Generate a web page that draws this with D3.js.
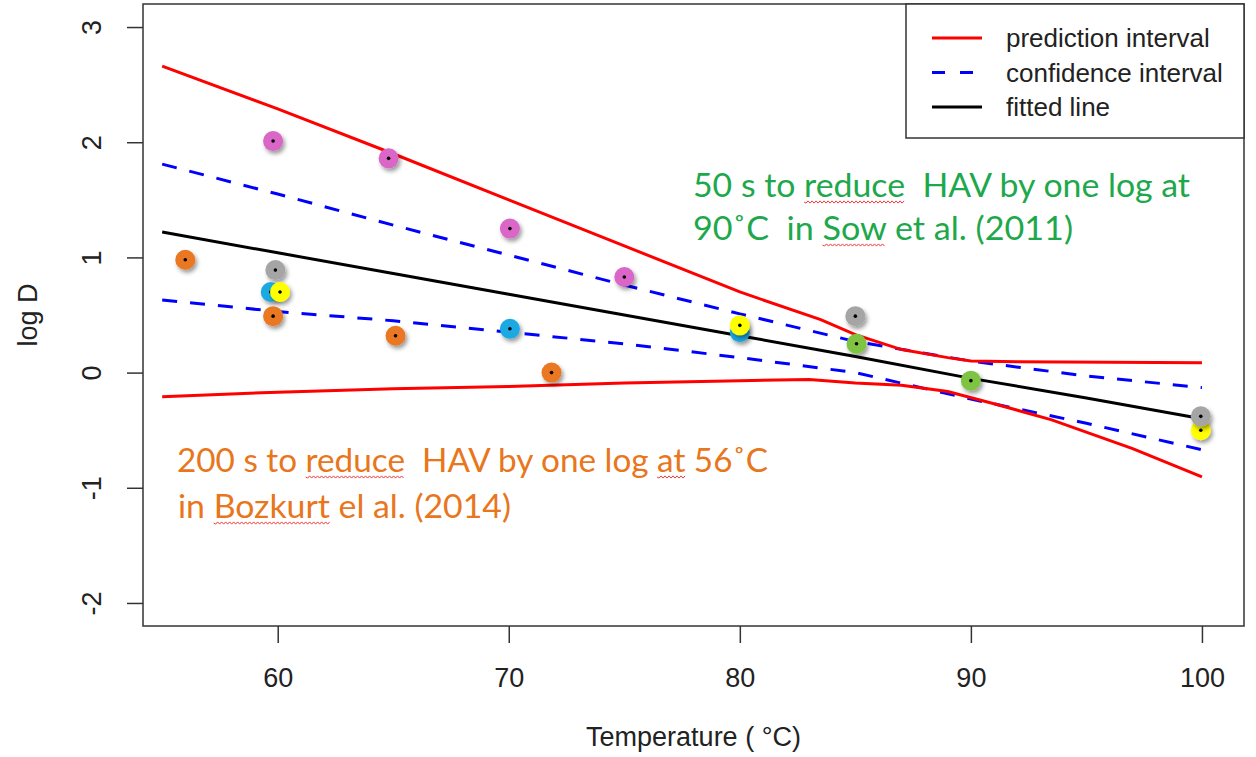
<!DOCTYPE html>
<html>
<head>
<meta charset="utf-8">
<script src="https://cdn.jsdelivr.net/npm/d3@7"></script>
<style>
  body { margin: 0; background: #fff; }
  svg { display: block; }
  .ax text { font-family: "Liberation Sans", Arial, sans-serif; font-size: 27px; fill: #222; }
  .note { font-family: Lato, "Open Sans", sans-serif; font-size: 33px; white-space: pre; }
</style>
</head>
<body>
<div id="chart"></div>
<script>
// line data at these temperatures
const temps = [55, 60, 65, 70, 75, 80, 85, 90, 95, 100];
const fitted = [1.22, 1.04, 0.86, 0.68, 0.50, 0.32, 0.14, -0.05, -0.22, -0.40];
const confUpper = [1.81, 1.55, 1.28, 1.02, 0.76, 0.51, 0.27, 0.10, -0.03, -0.13];
const confLower = [0.63, 0.53, 0.45, 0.35, 0.25, 0.13, 0.0, -0.23, -0.44, -0.67];

// prediction band has bends, so it gets its own temps
const predUpperT = [55, 60, 65, 70, 75, 80, 83.5, 85, 87, 89, 90, 92, 100];
const predUpper = [2.66, 2.29, 1.90, 1.50, 1.10, 0.70, 0.46, 0.33, 0.20, 0.13, 0.10, 0.095, 0.085];
const predLowerT = [55, 60, 65, 70, 75, 80, 83, 85, 87, 89, 91, 93.5, 97, 100];
const predLower = [-0.21, -0.17, -0.14, -0.12, -0.09, -0.07, -0.06, -0.09, -0.11, -0.165, -0.27, -0.41, -0.66, -0.905];

// study points (drawn in this order)
const pointTemp = [56, 59.8, 59.9, 59.7, 60.1, 59.8, 64.8, 65.1, 70.05, 70.05, 71.85, 75.0, 80.0, 80.0, 85.0, 85.05, 90.0, 99.95, 99.95];
const pointLogD = [0.98, 2.01, 0.89, 0.70, 0.70, 0.49, 1.86, 0.32, 1.25, 0.38, 0.0, 0.83, 0.35, 0.41, 0.49, 0.25, -0.07, -0.50, -0.38];
const pointStudy = ["o", "p", "g", "c", "y", "o", "p", "o", "p", "c", "o", "p", "c", "y", "g", "n", "n", "y", "g"];
const studyColor = { o: "#ea7722", p: "#da66c8", g: "#a5a5a5", c: "#1ba9e1", y: "#ffff00", n: "#7fc343" };

const xTicks = [60, 70, 80, 90, 100];
const yTicks = [-2, -1, 0, 1, 2, 3];

const legendLabels = ["prediction interval", "confidence interval", "fitted line"];
const legendColors = ["#ff0000", "#0000ff", "#000000"];
const legendDash = [null, "13,15", null];

const W = 1256, H = 757;
const pl = 143, pr = 1244, pt = 4, pb = 626;

const svg = d3.select("#chart").append("svg")
    .attr("width", W)
    .attr("height", H);

const x = d3.scaleLinear().domain([54.17, 101.82]).range([pl, pr]);
const y = d3.scaleLinear().domain([-2.2, 3.2]).range([pb, pt]);

// shadow for the dots
const defs = svg.append("defs");
defs.append("filter").attr("id", "shadow")
    .attr("x", "-50%").attr("y", "-50%").attr("width", "200%").attr("height", "200%")
  .append("feDropShadow")
    .attr("dx", 2).attr("dy", 3).attr("stdDeviation", 2.2)
    .attr("flood-color", "#000").attr("flood-opacity", 0.4);

// axes
const xAxis = svg.append("g").attr("class", "ax")
    .attr("transform", `translate(0,${pb})`)
    .call(d3.axisBottom(x).tickValues(xTicks).tickSize(17).tickFormat(d3.format("d")));
xAxis.select(".domain").remove();
xAxis.selectAll("line").attr("stroke", "#333").attr("stroke-width", 1.5);
xAxis.selectAll("text").attr("y", 61).attr("dy", null);

const yAxis = svg.append("g").attr("class", "ax")
    .attr("transform", `translate(${pl},0)`)
    .call(d3.axisLeft(y).tickValues(yTicks).tickSize(16));
yAxis.select(".domain").remove();
yAxis.selectAll("line").attr("stroke", "#333").attr("stroke-width", 1.5);
yAxis.selectAll("text")
    .attr("x", null).attr("dy", null)
    .attr("text-anchor", "middle")
    .attr("transform", "translate(-42,0) rotate(-90)")
    .text(d => String(d));

svg.append("text")
    .attr("x", (pl + pr) / 2).attr("y", 746)
    .attr("text-anchor", "middle")
    .style("font-family", "'Liberation Sans', Arial, sans-serif")
    .style("font-size", "27px").style("fill", "#222")
    .text("Temperature ( °C)");

svg.append("text")
    .attr("transform", `translate(37,${(pt + pb) / 2}) rotate(-90)`)
    .attr("text-anchor", "middle")
    .style("font-family", "'Liberation Sans', Arial, sans-serif")
    .style("font-size", "27px").style("fill", "#222")
    .text("log D");

// plot box
svg.append("rect")
    .attr("x", pl).attr("y", pt)
    .attr("width", pr - pl).attr("height", pb - pt)
    .attr("fill", "none").attr("stroke", "#333").attr("stroke-width", 1.5);

// lines
const line = d3.line().x(d => x(d[0])).y(d => y(d[1]));
function drawLine(ts, vals, color, dash) {
  svg.append("path")
      .datum(ts.map((t, i) => [t, vals[i]]))
      .attr("d", line)
      .attr("fill", "none")
      .attr("stroke", color)
      .attr("stroke-width", 3)
      .attr("stroke-dasharray", dash);
}
drawLine(temps, confUpper, "#0000ff", "15,13");
drawLine(temps, confLower, "#0000ff", "15,13");
drawLine(temps, fitted, "#000000", null);
drawLine(predUpperT, predUpper, "#ff0000", null);
drawLine(predLowerT, predLower, "#ff0000", null);

// legend
const lg = svg.append("g");
lg.append("rect")
    .attr("x", 906).attr("y", pt)
    .attr("width", pr - 906).attr("height", 134)
    .attr("fill", "#fff").attr("stroke", "#333").attr("stroke-width", 1.5);
legendLabels.forEach((lab, i) => {
  const ly = 38 + i * 34.5;
  lg.append("line")
      .attr("x1", 932).attr("x2", 982).attr("y1", ly).attr("y2", ly)
      .attr("stroke", legendColors[i]).attr("stroke-width", 3)
      .attr("stroke-dasharray", legendDash[i]);
  lg.append("text")
      .attr("x", 1006).attr("y", ly + 9)
      .style("font-family", "'Liberation Sans', Arial, sans-serif")
      .style("font-size", "26px").style("fill", "#222")
      .text(lab);
});

// points
const pts = svg.append("g");
pointTemp.forEach((t, i) => {
  pts.append("circle")
      .attr("cx", x(t)).attr("cy", y(pointLogD[i])).attr("r", 10)
      .attr("fill", studyColor[pointStudy[i]])
      .attr("filter", "url(#shadow)");
  pts.append("circle")
      .attr("cx", x(t)).attr("cy", y(pointLogD[i])).attr("r", 1.8)
      .attr("fill", "#000");
});

// annotations
function note(str, x0, y0, len, color) {
  return svg.append("text").attr("class", "note")
      .attr("x", x0).attr("y", y0)
      .attr("textLength", len).attr("lengthAdjust", "spacingAndGlyphs")
      .style("fill", color)
      .text(str);
}
// red spell-check wave under a word
function squiggle(t, word, from) {
  const node = t.node();
  const s = node.textContent;
  const i = s.indexOf(word, from || 0);
  if (i < 0) return;
  const a = node.getExtentOfChar(i);
  const b = node.getExtentOfChar(i + word.length - 1);
  const x0 = a.x, x1 = b.x + b.width;
  const yb = +t.attr("y") + 5;
  let d = `M${x0},${yb}`;
  let k = 0;
  for (let xx = x0 + 2; xx <= x1; xx += 2, k++) d += `L${xx},${yb + (k % 2 ? -1.1 : 1.1)}`;
  svg.append("path").attr("d", d).attr("fill", "none")
      .attr("stroke", "#f03c3c").attr("stroke-width", 1);
}

const g1 = note("50 s to reduce  HAV by one log at", 693, 197, 497, "#1ea84c");
const g2 = note("90˚C  in Sow et al. (2011)", 693, 240, 380, "#1ea84c");
const o1 = note("200 s to reduce  HAV by one log at 56˚C", 177, 472, 591, "#e8761c");
const o2 = note("in Bozkurt el al. (2014)", 178, 518, 333, "#e8761c");
squiggle(g1, "reduce");
squiggle(g2, "Sow");
squiggle(o1, "reduce");
squiggle(o1, "at", o1.node().textContent.indexOf("at 56"));
squiggle(o2, "Bozkurt");
</script>
</body>
</html>
